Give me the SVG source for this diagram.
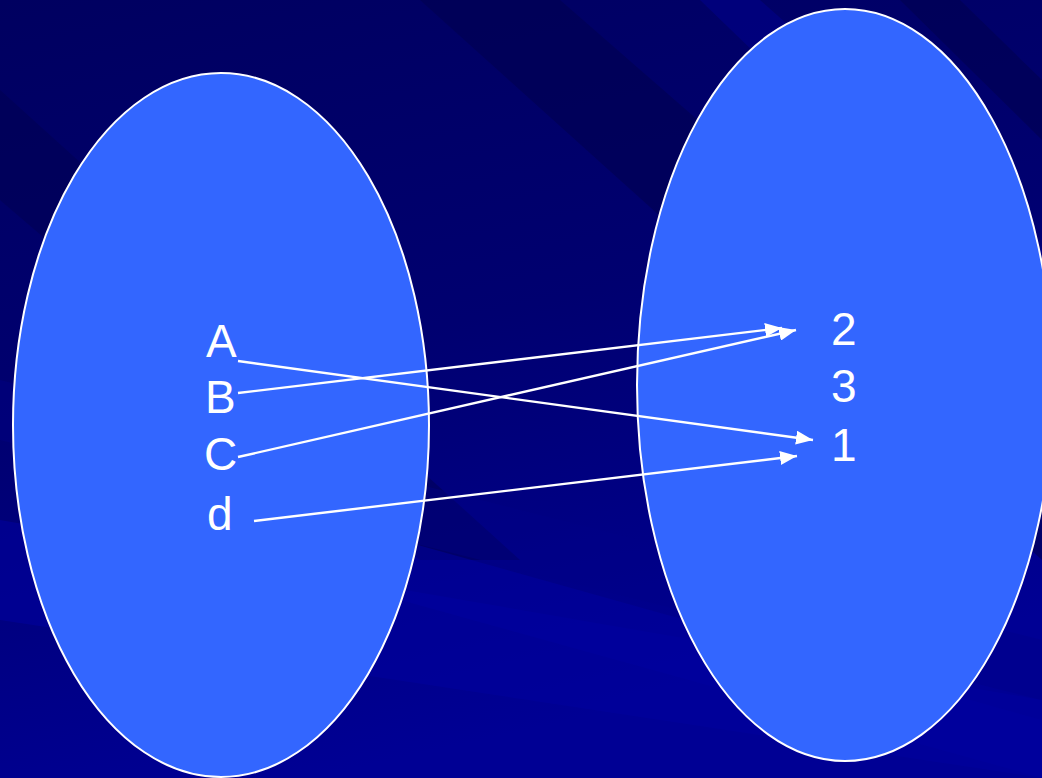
<svg xmlns="http://www.w3.org/2000/svg" width="1042" height="778" viewBox="0 0 1042 778">
<style>
.set{fill:#3366FF;stroke:#FFFFFF;stroke-width:2}
.lbl{font-family:"Liberation Sans",Arial,sans-serif;font-size:46px;fill:#FFFFFF}
.conn line{stroke:#FFFFFF;stroke-width:2.4;marker-end:url(#ah)}
</style>
<defs>
<linearGradient id="bg" x1="0" y1="0" x2="0.3" y2="1">
<stop offset="0" stop-color="#000060"/>
<stop offset="0.5" stop-color="#000070"/>
<stop offset="1" stop-color="#000094"/>
</linearGradient>
<marker id="ah" viewBox="0 0 17 14" refX="17" refY="7" markerWidth="17" markerHeight="14" markerUnits="userSpaceOnUse" orient="auto">
<path d="M0,0 L17,7 L0,14 Z" fill="#FFFFFF"/>
</marker>
</defs>
<rect width="1042" height="778" fill="url(#bg)"/>
<g id="bands">
<polygon points="420,0 560,0 1042,420 1042,560" fill="#000050" opacity="0.6"/>
<polygon points="700,0 760,0 1042,250 1042,330" fill="#000090" opacity="0.5"/>
<polygon points="900,0 960,0 1042,80 1042,140" fill="#000050" opacity="0.6"/>
<polygon points="0,90 0,200 420,560 520,560" fill="#000050" opacity="0.5"/>
<polygon points="0,520 0,620 1042,778 1042,700" fill="#00009C" opacity="0.6"/>
<polygon points="0,380 0,440 1042,700 1042,640" fill="#000088" opacity="0.4"/>
<polygon points="400,540 400,600 1042,778 1042,720" fill="#0000A0" opacity="0.5"/>
</g>
<g id="set-left">
<ellipse class="set" cx="221" cy="425" rx="208" ry="352"/>
</g>
<g id="set-right">
<ellipse class="set" cx="845" cy="385" rx="208" ry="376"/>
</g>
<g id="node-A"><text class="lbl" x="206" y="357">A</text></g>
<g id="node-B"><text class="lbl" x="205" y="413">B</text></g>
<g id="node-C"><text class="lbl" x="204" y="470">C</text></g>
<g id="node-d"><text class="lbl" x="207" y="530">d</text></g>
<g id="node-2"><text class="lbl" x="831" y="345">2</text></g>
<g id="node-3"><text class="lbl" x="831" y="402">3</text></g>
<g id="node-1"><text class="lbl" x="831" y="461">1</text></g>
<g id="connectors" class="conn">
<line x1="238" y1="361" x2="813" y2="440"/>
<line x1="238" y1="393" x2="782" y2="328"/>
<line x1="238" y1="457" x2="796" y2="330"/>
<line x1="254" y1="521" x2="797" y2="456"/>
</g>
</svg>
